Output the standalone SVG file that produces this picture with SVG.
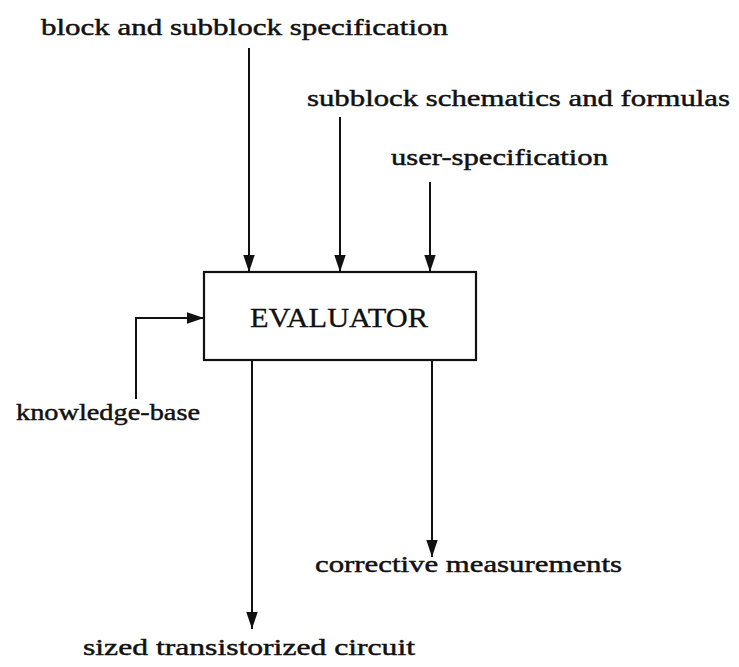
<svg xmlns="http://www.w3.org/2000/svg" width="739" height="667" viewBox="0 0 739 667">
  <style>
    .lbl { font-family: "Liberation Serif", "Times New Roman", serif; font-size: 23px; fill: #111; stroke: #111; stroke-width: 0.45px; }
    .title { font-family: "Liberation Serif", "Times New Roman", serif; font-size: 27px; fill: #111; stroke: #111; stroke-width: 0.3px; }
    .box { fill: #fff; stroke: #111; stroke-width: 2.2; }
    .wire { fill: none; stroke: #111; stroke-width: 2; marker-end: url(#arrow); }
  </style>
  <defs>
    <marker id="arrow" markerUnits="userSpaceOnUse" markerWidth="17" markerHeight="12" refX="17" refY="6" orient="auto">
      <path d="M0,0.3 L17,6 L0,11.7 z" fill="#111"/>
    </marker>
  </defs>

  <!-- connectors -->
  <g id="connectors">
    <path class="wire" d="M249,48 V272"/>
    <path class="wire" d="M340,117 V272"/>
    <path class="wire" d="M430,182 V272"/>
    <path class="wire" d="M136,399 V318 H204"/>
    <path class="wire" d="M252,360 V629"/>
    <path class="wire" d="M432,360 V557"/>
  </g>

  <!-- central processing block -->
  <g id="evaluator">
    <rect class="box" x="204" y="272" width="272" height="88"/>
    <text class="title" x="250" y="327" textLength="178" lengthAdjust="spacingAndGlyphs">EVALUATOR</text>
  </g>

  <!-- inputs -->
  <g id="block-spec">
    <text class="lbl" x="41" y="35" textLength="407" lengthAdjust="spacingAndGlyphs">block and subblock specification</text>
  </g>
  <g id="subblock-schematics">
    <text class="lbl" x="307" y="106" textLength="423" lengthAdjust="spacingAndGlyphs">subblock schematics and formulas</text>
  </g>
  <g id="user-spec">
    <text class="lbl" x="391" y="165" textLength="217" lengthAdjust="spacingAndGlyphs">user-specification</text>
  </g>
  <g id="knowledge-base">
    <text class="lbl" x="16" y="420" textLength="184" lengthAdjust="spacingAndGlyphs">knowledge-base</text>
  </g>

  <!-- outputs -->
  <g id="corrective">
    <text class="lbl" x="315" y="572" textLength="307" lengthAdjust="spacingAndGlyphs">corrective measurements</text>
  </g>
  <g id="sized-circuit">
    <text class="lbl" x="83" y="655" textLength="332" lengthAdjust="spacingAndGlyphs">sized transistorized circuit</text>
  </g>
</svg>
